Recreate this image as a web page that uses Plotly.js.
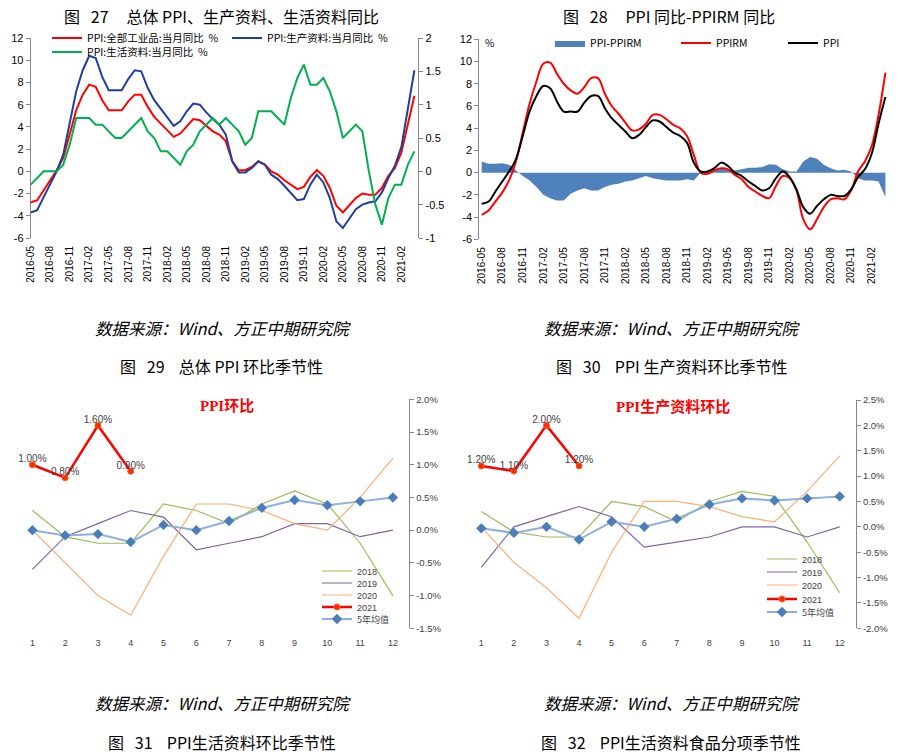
<!DOCTYPE html>
<html><head><meta charset="utf-8">
<script src="https://cdn.plot.ly/plotly-3.0.1.min.js"></script>
<style>html,body{margin:0;padding:0;background:#fff}#chart{width:900px;height:755px}</style>
</head><body><div id="chart"></div>
<script>
// ---------- data ----------
const months = ['2016-05','2016-06','2016-07','2016-08','2016-09','2016-10','2016-11','2016-12',
'2017-01','2017-02','2017-03','2017-04','2017-05','2017-06','2017-07','2017-08','2017-09','2017-10','2017-11','2017-12',
'2018-01','2018-02','2018-03','2018-04','2018-05','2018-06','2018-07','2018-08','2018-09','2018-10','2018-11','2018-12',
'2019-01','2019-02','2019-03','2019-04','2019-05','2019-06','2019-07','2019-08','2019-09','2019-10','2019-11','2019-12',
'2020-01','2020-02','2020-03','2020-04','2020-05','2020-06','2020-07','2020-08','2020-09','2020-10','2020-11','2020-12',
'2021-01','2021-02','2021-03','2021-04'];
const monthTicks = ['2016-05','2016-08','2016-11','2017-02','2017-05','2017-08','2017-11','2018-02','2018-05','2018-08',
'2018-11','2019-02','2019-05','2019-08','2019-11','2020-02','2020-05','2020-08','2020-11','2021-02'];

// PPI 全部工业品 当月同比 (%)
const ppiAll = [-2.8,-2.6,-1.7,-0.8,0.1,1.2,3.3,5.5,
6.9,7.8,7.6,6.4,5.5,5.5,5.5,6.3,6.9,6.9,5.8,4.9,
4.3,3.7,3.1,3.4,4.1,4.7,4.6,4.1,3.6,3.3,2.7,0.9,
0.1,0.1,0.4,0.9,0.6,0.0,-0.3,-0.8,-1.2,-1.6,-1.4,-0.5,
0.1,-0.4,-1.5,-3.1,-3.7,-3.0,-2.4,-2.0,-2.1,-2.1,-1.5,-0.4,
0.3,1.7,4.4,6.8];
// PPI 生产资料 当月同比 (%)
const ppiProducer = [-3.7,-3.5,-2.3,-1.1,0.0,1.5,4.4,7.2,
9.1,10.4,10.2,8.5,7.3,7.3,7.3,8.3,9.1,9.0,7.5,6.4,
5.6,4.8,4.1,4.5,5.4,6.1,6.0,5.3,4.7,4.2,3.3,0.9,
-0.1,-0.1,0.3,0.9,0.6,-0.3,-0.7,-1.3,-2.0,-2.6,-2.5,-1.2,
-0.3,-1.0,-2.4,-4.5,-5.1,-4.2,-3.4,-3.0,-2.8,-2.7,-1.9,-0.6,
0.5,2.2,5.7,9.1];
// PPI 生活资料 当月同比 (%), right axis
const ppiConsumer = [-0.2,-0.1,0.0,0.0,0.0,0.1,0.4,0.8,
0.8,0.8,0.7,0.7,0.6,0.5,0.5,0.6,0.7,0.8,0.6,0.5,
0.3,0.3,0.2,0.1,0.3,0.4,0.6,0.7,0.8,0.7,0.8,0.7,
0.6,0.4,0.5,0.9,0.9,0.9,0.8,0.7,1.1,1.4,1.6,1.3,
1.3,1.4,1.2,0.9,0.5,0.6,0.7,0.6,0.0,-0.5,-0.8,-0.4,
-0.2,-0.2,0.1,0.3];
// PPIRM 同比 (%)
const ppirm = [-3.8,-3.4,-2.6,-1.8,-0.7,1.0,3.6,6.2,
8.2,9.8,9.9,8.9,8.0,7.4,7.1,7.7,8.5,8.5,7.1,6.0,
5.3,4.5,3.8,3.9,4.4,5.2,5.2,4.8,4.3,4.0,3.3,1.6,
0.0,-0.1,0.2,0.4,0.3,-0.2,-0.6,-1.3,-1.7,-2.1,-2.3,-1.2,
-0.3,-0.5,-1.6,-4.2,-5.1,-4.2,-3.1,-2.4,-2.3,-2.4,-1.6,0.1,
1.0,2.4,5.2,9.0];
// PPI-PPIRM (area)
const ppiMinusPpirm = [1.0,0.8,0.8,0.85,0.7,0.2,-0.3,-0.7,
-1.3,-2.0,-2.3,-2.5,-2.5,-1.9,-1.6,-1.4,-1.6,-1.6,-1.3,-1.1,
-1.0,-0.8,-0.7,-0.5,-0.3,-0.5,-0.6,-0.7,-0.7,-0.7,-0.6,-0.7,
0.0,0.1,0.15,0.35,0.25,0.2,0.3,0.45,0.45,0.5,0.75,0.7,
0.3,0.1,0.1,1.0,1.4,1.25,0.7,0.4,0.2,0.25,0.1,-0.5,
-0.7,-0.7,-0.8,-2.2];

// seasonal charts (month 1-12), % m/m
const seasonMonths = [1,2,3,4,5,6,7,8,9,10,11,12];
const mom2018 = [0.3,-0.1,-0.2,-0.2,0.4,0.3,0.1,0.4,0.6,0.4,-0.2,-1.0];
const mom2019 = [-0.6,-0.1,0.1,0.3,0.2,-0.3,-0.2,-0.1,0.1,0.1,-0.1,0.0];
const mom2020 = [0.0,-0.5,-1.0,-1.3,-0.4,0.4,0.4,0.3,0.1,0.0,0.5,1.1];
const mom2021 = [1.0,0.8,1.6,0.9];
const momAvg5 = [0.0,-0.08,-0.06,-0.18,0.08,0.0,0.14,0.34,0.46,0.38,0.44,0.50];

const prod2018 = [0.3,-0.1,-0.2,-0.2,0.5,0.4,0.1,0.5,0.7,0.6,-0.3,-1.3];
const prod2019 = [-0.8,0.0,0.2,0.4,0.2,-0.4,-0.3,-0.2,0.0,0.0,-0.2,0.0];
const prod2020 = [0.0,-0.7,-1.2,-1.8,-0.5,0.5,0.5,0.4,0.2,0.1,0.7,1.4];
const prod2021 = [1.2,1.1,2.0,1.2];
const prodAvg5 = [-0.03,-0.12,0.0,-0.25,0.1,0.0,0.16,0.44,0.56,0.52,0.56,0.6];

const yoyLeftTicks = [-6,-4,-2,0,2,4,6,8,10,12];
const yoyRightTicks = [-1,-0.5,0,0.5,1,1.5,2];
const momTicks = [-1.5,-1.0,-0.5,0.0,0.5,1.0,1.5,2.0];
const prodTicks = [-2.0,-1.5,-1.0,-0.5,0.0,0.5,1.0,1.5,2.0,2.5];

// ---------- layout helpers ----------
const W = 900, H = 755;
const fx = p => p / W;
const fy = p => 1 - p / H;
const GRAY = '#868686';
const F = 'Liberation Sans, Arial, Noto Sans CJK SC, sans-serif';
const FC = 'Noto Sans CJK SC, Liberation Sans, sans-serif';
const zeroPos = (dom, r) => dom[0] + (0 - r[0]) / (r[1] - r[0]) * (dom[1] - dom[0]);

const d1x = [fx(30.7), fx(418.3)], d1y = [fy(238), fy(38)];
const d2x = [fx(479.3), fx(888)], d2y = [fy(239.3), fy(39.3)];
const d3x = [fx(16), fx(409.3)], d3y = [fy(628.3), fy(399.3)];
const d4x = [fx(465), fx(856)], d4y = [fy(628.3), fy(400)];
const r1 = [-6, 12], r1b = [-1, 2], r3 = [-1.5, 2.0], r4 = [-2.0, 2.5];
const rx1 = [0, 59.6], rx2 = [-0.35, 59.38], rxs = [0.5, 12.5];

function leg(xp, yp, size, color, family) {
  return {x: fx(xp), y: fy(yp), xanchor: 'left', yanchor: 'middle', bgcolor: 'rgba(0,0,0,0)',
    borderwidth: 0, orientation: 'v', font: {family: family || FC, size: size, color: color || '#000'}};
}
const yBase = {showgrid: false, zeroline: false, showline: true, linecolor: GRAY, linewidth: 1,
  ticks: 'outside', ticklen: 4, tickcolor: GRAY, fixedrange: true};
const pct = v => v.toFixed(1) + '%';

const traces = [
  // chart 27
  {x: months, y: ppiAll, xaxis: 'x', yaxis: 'y', mode: 'lines', name: 'PPI:全部工业品:当月同比  %',
   line: {color: '#FF0000', width: 2}, legend: 'legend'},
  {x: months, y: ppiProducer, xaxis: 'x', yaxis: 'y', mode: 'lines', name: 'PPI:生产资料:当月同比  %',
   line: {color: '#1F3F9A', width: 2}, legend: 'legend2'},
  {x: months, y: ppiConsumer, xaxis: 'x', yaxis: 'y2', mode: 'lines', name: 'PPI:生活资料:当月同比  %',
   line: {color: '#00B050', width: 2}, legend: 'legend3'},
  // chart 28
  {x: months, y: ppiMinusPpirm, xaxis: 'x2', yaxis: 'y3', mode: 'lines', fill: 'tozeroy', name: 'PPI-PPIRM',
   fillcolor: '#4F81BD', line: {color: '#4F81BD', width: 0}, legend: 'legend4'},
  {x: months, y: ppirm, xaxis: 'x2', yaxis: 'y3', mode: 'lines', name: 'PPIRM',
   line: {color: '#FF0000', width: 2, shape: 'spline', smoothing: 1}, legend: 'legend5'},
  {x: months, y: ppiAll, xaxis: 'x2', yaxis: 'y3', mode: 'lines', name: 'PPI',
   line: {color: '#000000', width: 2, shape: 'spline', smoothing: 1}, legend: 'legend6'},
  // chart 29
  {x: seasonMonths, y: mom2018, xaxis: 'x3', yaxis: 'y4', mode: 'lines', name: '2018',
   line: {color: '#9BBB59', width: 1.2}, legend: 'legend7'},
  {x: seasonMonths, y: mom2019, xaxis: 'x3', yaxis: 'y4', mode: 'lines', name: '2019',
   line: {color: '#8064A2', width: 1.2}, legend: 'legend8'},
  {x: seasonMonths, y: mom2020, xaxis: 'x3', yaxis: 'y4', mode: 'lines', name: '2020',
   line: {color: '#FAAE74', width: 1.2}, legend: 'legend9'},
  {x: seasonMonths.slice(0, mom2021.length), y: mom2021, xaxis: 'x3', yaxis: 'y4', mode: 'lines+markers', name: '2021',
   line: {color: '#FF0000', width: 2.5}, marker: {symbol: 'circle', size: 6, color: '#FF2A00', line: {color: '#F06020', width: 1}}, legend: 'legend10'},
  {x: seasonMonths, y: momAvg5, xaxis: 'x3', yaxis: 'y4', mode: 'lines+markers', name: '5年均值',
   line: {color: '#8FB0DA', width: 2}, marker: {symbol: 'diamond', size: 8, color: '#4A7EBB'}, legend: 'legend11'},
  {x: seasonMonths.slice(0, mom2021.length), y: mom2021, xaxis: 'x3', yaxis: 'y4', mode: 'text', showlegend: false,
   texttemplate: '%{y:.2f}%', textposition: 'top center', textfont: {family: F, size: 10, color: '#404040'}},
  // chart 30
  {x: seasonMonths, y: prod2018, xaxis: 'x4', yaxis: 'y5', mode: 'lines', name: '2018',
   line: {color: '#9BBB59', width: 1.2}, legend: 'legend12'},
  {x: seasonMonths, y: prod2019, xaxis: 'x4', yaxis: 'y5', mode: 'lines', name: '2019',
   line: {color: '#8064A2', width: 1.2}, legend: 'legend13'},
  {x: seasonMonths, y: prod2020, xaxis: 'x4', yaxis: 'y5', mode: 'lines', name: '2020',
   line: {color: '#FAAE74', width: 1.2}, legend: 'legend14'},
  {x: seasonMonths.slice(0, prod2021.length), y: prod2021, xaxis: 'x4', yaxis: 'y5', mode: 'lines+markers', name: '2021',
   line: {color: '#FF0000', width: 2.5}, marker: {symbol: 'circle', size: 6, color: '#FF2A00', line: {color: '#F06020', width: 1}}, legend: 'legend15'},
  {x: seasonMonths, y: prodAvg5, xaxis: 'x4', yaxis: 'y5', mode: 'lines+markers', name: '5年均值',
   line: {color: '#8FB0DA', width: 2}, marker: {symbol: 'diamond', size: 8, color: '#4A7EBB'}, legend: 'legend16'},
  {x: seasonMonths.slice(0, prod2021.length), y: prod2021, xaxis: 'x4', yaxis: 'y5', mode: 'text', showlegend: false,
   texttemplate: '%{y:.2f}%', textposition: 'top center', textfont: {family: F, size: 10, color: '#404040'}}
];

const every3 = [];
for (let i = 0; i < months.length; i += 3) every3.push(i);
const between3 = [];
for (let i = 2.5; i < 59.4; i += 3) between3.push(i);
const bounds = [];
for (let i = 0.5; i <= 12.5; i += 1) bounds.push(i);

const xLabelAxis = (dom, anchor, range) => ({domain: dom, anchor: anchor, type: 'category', range: range,
  tickmode: 'array', tickvals: monthTicks, ticktext: monthTicks, tickangle: -90, showline: false, showgrid: false,
  zeroline: false, ticks: 'outside', ticklen: 3, tickcolor: 'rgba(0,0,0,0)', tickfont: {family: F, size: 10, color: '#000'}, fixedrange: true});
const zeroAxis = (over, pos, range, vals, len) => ({overlaying: over, anchor: 'free', position: pos, type: 'linear',
  range: range, tickmode: 'array', tickvals: vals, ticks: 'outside', ticklen: len, tickcolor: GRAY,
  showline: true, linecolor: GRAY, linewidth: 1, showticklabels: false, showgrid: false, zeroline: false, fixedrange: true});
const seasonX = (dom, anchor) => ({domain: dom, anchor: anchor, range: rxs, tickmode: 'array', tickvals: seasonMonths,
  ticktext: seasonMonths.map(String), showline: false, showgrid: false, zeroline: false, ticks: 'outside', ticklen: 6,
  tickcolor: 'rgba(0,0,0,0)', tickfont: {family: F, size: 9, color: '#404040'}, fixedrange: true});

const ann = (text, xp, yp, size, extra) => Object.assign({text: text, xref: 'paper', yref: 'paper', x: fx(xp), y: fy(yp),
  xanchor: 'center', yanchor: 'middle', showarrow: false, font: {family: FC, size: size, color: '#000'}}, extra || {});
const sp = n => '\u00a0'.repeat(n);
const LG = '#404040';

const layout = {
  width: W, height: H, margin: {l: 0, r: 0, t: 0, b: 0}, paper_bgcolor: '#fff', plot_bgcolor: 'rgba(0,0,0,0)',
  font: {family: F},
  xaxis: xLabelAxis(d1x, 'y', rx1),
  yaxis: Object.assign({}, yBase, {domain: d1y, anchor: 'x', range: r1, tickmode: 'array', tickvals: yoyLeftTicks,
    ticktext: yoyLeftTicks.map(String), tickfont: {family: F, size: 11, color: '#000'}}),
  yaxis2: Object.assign({}, yBase, {overlaying: 'y', side: 'right', anchor: 'x', range: r1b, tickmode: 'array',
    tickvals: yoyRightTicks, ticktext: yoyRightTicks.map(String), tickfont: {family: F, size: 11, color: '#000'}}),
  xaxis2: xLabelAxis(d2x, 'y3', rx2),
  yaxis3: Object.assign({}, yBase, {domain: d2y, anchor: 'x2', range: r1, tickmode: 'array', tickvals: yoyLeftTicks,
    ticktext: yoyLeftTicks.map(String), tickfont: {family: F, size: 11, color: '#000'}}),
  xaxis3: seasonX(d3x, 'y4'),
  yaxis4: Object.assign({}, yBase, {domain: d3y, anchor: 'x3', side: 'right', range: r3, tickmode: 'array',
    tickvals: momTicks, ticktext: momTicks.map(pct), tickfont: {family: F, size: 9.5, color: '#404040'}}),
  xaxis4: seasonX(d4x, 'y5'),
  yaxis5: Object.assign({}, yBase, {domain: d4y, anchor: 'x4', side: 'right', range: r4, tickmode: 'array',
    tickvals: prodTicks, ticktext: prodTicks.map(pct), tickfont: {family: F, size: 9.5, color: '#404040'}}),
  xaxis5: zeroAxis('x', zeroPos(d1y, r1), rx1, every3, 4),
  xaxis6: zeroAxis('x2', zeroPos(d2y, r1), rx2, between3, 4),
  xaxis7: zeroAxis('x3', zeroPos(d3y, r3), rxs, bounds, 3),
  xaxis8: zeroAxis('x4', zeroPos(d4y, r4), rxs, bounds, 3),
  legend: leg(47, 38, 10.5), legend2: leg(227, 38, 10.5), legend3: leg(47, 52, 10.5),
  legend4: leg(550, 43, 10.5), legend5: leg(676, 43, 10.5), legend6: leg(783, 43, 10.5),
  legend7: leg(317, 571, 9, LG, F), legend8: leg(317, 583, 9, LG, F), legend9: leg(317, 595, 9, LG, F),
  legend10: leg(317, 607, 9, LG, F), legend11: leg(317, 619, 9, LG, FC),
  legend12: leg(762, 559, 9, LG, F), legend13: leg(762, 572, 9, LG, F), legend14: leg(762, 585, 9, LG, F),
  legend15: leg(762, 599, 9, LG, F), legend16: leg(762, 612, 9, LG, FC),
  annotations: [
    ann('图' + sp(3) + '27' + sp(5) + '总体 PPI、生产资料、生活资料同比', 221, 16, 16),
    ann('图' + sp(3) + '28' + sp(5) + 'PPI 同比-PPIRM 同比', 669, 16, 16),
    ann('%', 490, 42, 10),
    ann('<b>PPI环比</b>', 227, 406, 15, {font: {family: 'Liberation Serif, Noto Sans CJK SC, serif', size: 15, color: '#FF0000'}}),
    ann('<b>PPI生产资料环比</b>', 673, 407, 15, {font: {family: 'Liberation Serif, Noto Sans CJK SC, serif', size: 15, color: '#FF0000'}}),
    ann('<i>数据来源：Wind、方正中期研究院</i>', 222.5, 328, 16.5),
    ann('<i>数据来源：Wind、方正中期研究院</i>', 671.5, 328, 16.5),
    ann('图' + sp(3) + '29' + sp(4) + '总体 PPI 环比季节性', 221.5, 366, 16),
    ann('图' + sp(3) + '30' + sp(4) + 'PPI 生产资料环比季节性', 671, 366, 16),
    ann('<i>数据来源：Wind、方正中期研究院</i>', 222.5, 703, 16.5),
    ann('<i>数据来源：Wind、方正中期研究院</i>', 671.5, 703, 16.5),
    ann('图' + sp(3) + '31' + sp(4) + 'PPI生活资料环比季节性', 221.5, 742, 16),
    ann('图' + sp(3) + '32' + sp(4) + 'PPI生活资料食品分项季节性', 670.5, 742, 16)
  ]
};

Plotly.newPlot('chart', traces, layout, {displayModeBar: false, staticPlot: true});
</script>
</body></html>
